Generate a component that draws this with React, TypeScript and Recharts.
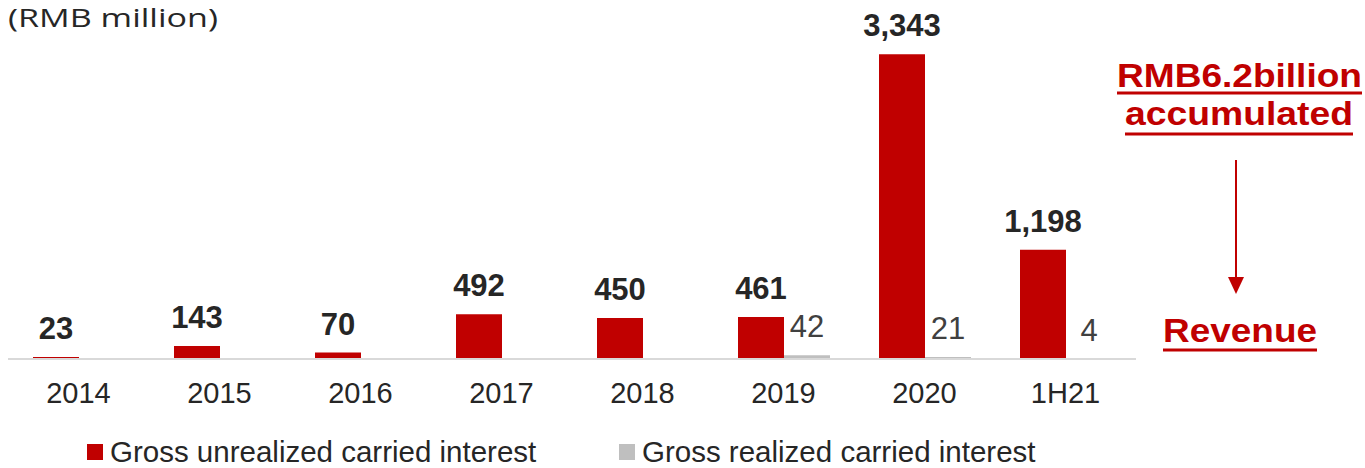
import { BarChart, Bar, XAxis, YAxis, LabelList } from 'recharts'

const categories = ['2014', '2015', '2016', '2017', '2018', '2019', '2020', '1H21']
const unrealized = [23, 143, 70, 492, 450, 461, 3343, 1198]
const realized: (number | null)[] = [null, null, null, null, null, 42, 21, 4]
const seriesNames = ['Gross unrealized carried interest', 'Gross realized carried interest']

const RED = '#C00000'
const GREY = '#BFBFBF'
const TEXT = '#262626'
const FONT = '"Liberation Sans", Arial, sans-serif'

const data = categories.map((name, i) => ({
  name,
  unrealized: unrealized[i],
  realized: realized[i],
}))

const fmt = (v: any) => (v == null ? '' : Number(v).toLocaleString('en-US'))

export default function App() {
  return (
    <div style={{ position: 'absolute', left: 0, top: 0, width: 1365, height: 468, background: '#fff' }}>
      <BarChart
        width={1365}
        height={468}
        data={data}
        margin={{ top: 40, right: 229, left: 8, bottom: 79 }}
        barGap={0}
        barSize={46}
      >
        <XAxis
          dataKey="name"
          height={30}
          axisLine={{ stroke: '#D9D9D9', strokeWidth: 2 }}
          tickLine={false}
          tick={{ fontSize: 29, fill: TEXT, fontFamily: FONT }}
          tickMargin={17}
          interval={0}
        />
        <YAxis hide domain={[0, 3500]} />
        <Bar dataKey="unrealized" fill={RED} isAnimationActive={false}>
          <LabelList
            dataKey="unrealized"
            position="top"
            offset={18}
            formatter={fmt}
            style={{ fontSize: 31, fontWeight: 700, fill: TEXT, fontFamily: FONT }}
          />
        </Bar>
        <Bar dataKey="realized" fill={GREY} isAnimationActive={false}>
          <LabelList
            dataKey="realized"
            position="top"
            offset={18}
            formatter={fmt}
            style={{ fontSize: 31, fill: '#404040', fontFamily: FONT }}
          />
        </Bar>
      </BarChart>

      {/* legend */}
      <div style={{ position: 'absolute', top: 436, left: 0, width: 1365, height: 32, fontFamily: FONT, fontSize: 29.5, color: TEXT }}>
        <span style={{ position: 'absolute', left: 87, top: 8, width: 16, height: 16, background: RED }} />
        <span style={{ position: 'absolute', left: 110, top: -1, lineHeight: '34px' }}>{seriesNames[0]}</span>
        <span style={{ position: 'absolute', left: 619, top: 8, width: 16, height: 16, background: GREY }} />
        <span style={{ position: 'absolute', left: 642, top: -1, lineHeight: '34px' }}>{seriesNames[1]}</span>
      </div>

      {/* unit note + right-hand annotation */}
      <svg width={1365} height={468} style={{ position: 'absolute', left: 0, top: 0, pointerEvents: 'none' }}>
        <text
          x={8}
          y={27}
          fontFamily='"Open Sans", "Noto Sans", sans-serif'
          fontSize={26}
          fill={TEXT}
          textLength={210}
          lengthAdjust="spacingAndGlyphs"
        >
          (RMB million)
        </text>
        <g fontFamily={FONT} fontWeight={700} fontSize={33} fill={RED}>
          <text x={1117} y={87} textLength={245} lengthAdjust="spacingAndGlyphs">RMB6.2billion</text>
          <text x={1125} y={125} textLength={228} lengthAdjust="spacingAndGlyphs">accumulated</text>
          <text x={1163} y={342} textLength={154} lengthAdjust="spacingAndGlyphs">Revenue</text>
        </g>
        <g stroke={RED} strokeWidth={3}>
          <line x1={1117} x2={1362} y1={93} y2={93} />
          <line x1={1125} x2={1353} y1={134} y2={134} />
          <line x1={1163} x2={1317} y1={350} y2={350} />
          <line x1={1236} x2={1236} y1={160} y2={279} strokeWidth={2} />
        </g>
        <polygon points="1228,277 1244,277 1236,294" fill={RED} />
      </svg>
    </div>
  )
}
